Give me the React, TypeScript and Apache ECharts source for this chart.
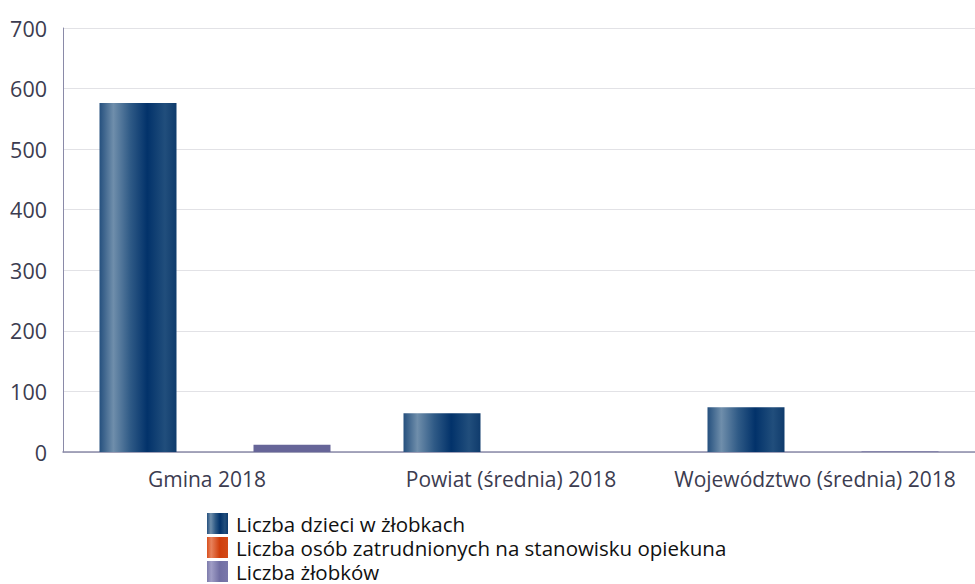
import React, { useEffect, useRef } from "react";
import * as echarts from "echarts";

const categories = ["Gmina 2018", "Powiat (średnia) 2018", "Województwo (średnia) 2018"];
const seriesNames = [
  "Liczba dzieci w żłobkach",
  "Liczba osób zatrudnionych na stanowisku opiekuna",
  "Liczba żłobków",
];
const dzieci = [576, 64, 74];
const opiekunowie = [0, 0, 0];
const zlobki = [12, 0, 1];
const yTicks = [0, 100, 200, 300, 400, 500, 600, 700];

const blueGrad = new echarts.graphic.LinearGradient(0, 0, 1, 0, [
  { offset: 0, color: "#25507e" },
  { offset: 0.18, color: "#6f8eab" },
  { offset: 0.4, color: "#2f5a86" },
  { offset: 0.62, color: "#02326a" },
  { offset: 0.85, color: "#214e7c" },
  { offset: 1, color: "#0f3b6c" },
]);
const orangeGrad = new echarts.graphic.LinearGradient(0, 0, 1, 0, [
  { offset: 0, color: "#d8501e" },
  { offset: 0.2, color: "#e8825c" },
  { offset: 0.6, color: "#d03e0c" },
  { offset: 1, color: "#d24a18" },
]);
const purpleLegendGrad = new echarts.graphic.LinearGradient(0, 0, 1, 0, [
  { offset: 0, color: "#7d7bab" },
  { offset: 0.2, color: "#a09ec6" },
  { offset: 0.6, color: "#716fa3" },
  { offset: 1, color: "#7a78aa" },
]);

const FONT = "'Open Sans', 'Noto Sans', sans-serif";

export default function App() {
  const ref = useRef<HTMLDivElement>(null);
  useEffect(() => {
    const chart = echarts.init(ref.current!, null, { renderer: "svg" });
    const textColor = "#3c3c50";
    chart.setOption({
      animation: false,
      grid: { left: 63, right: 0, top: 28, bottom: 132 },
      legend: {
        orient: "vertical",
        left: 207,
        top: 513,
        padding: 0,
        itemWidth: 21,
        itemHeight: 21,
        itemGap: 3,
        height: 80,
        textStyle: { fontSize: 20.5, lineHeight: 21, color: "#111", fontFamily: FONT, padding: [0, 0, 0, 3] },
        data: [
          { name: seriesNames[0], itemStyle: { color: blueGrad } },
          { name: seriesNames[1], itemStyle: { color: orangeGrad } },
          { name: seriesNames[2], itemStyle: { color: purpleLegendGrad } },
        ],
        icon: "rect",
      },
      xAxis: {
        type: "category",
        data: categories,
        axisLine: { lineStyle: { color: "#8a8aa8", width: 1.5 } },
        axisTick: { show: false },
        axisLabel: {
          interval: 0,
          fontSize: 21,
          color: textColor,
          margin: 16,
          fontFamily: FONT,
          padding: [0, 16, 0, 0],
        },
      },
      yAxis: {
        type: "value",
        min: 0,
        max: 700,
        interval: 100,
        axisLine: { show: true, lineStyle: { color: "#8a8aa8", width: 1 } },
        axisTick: { show: false },
        splitLine: { lineStyle: { color: "#e2e2e6" } },
        axisLabel: {
          fontSize: 21.5,
          color: textColor,
          margin: 16,
          fontFamily: FONT,
          formatter: (v: number) => (yTicks.includes(v) ? String(v) : ""),
        },
      },
      series: [
        {
          name: seriesNames[0],
          type: "bar",
          data: dzieci,
          barWidth: 77,
          barGap: "0%",
          itemStyle: { color: blueGrad },
        },
        {
          name: seriesNames[1],
          type: "bar",
          data: opiekunowie,
          barWidth: 77,
          barGap: "0%",
          itemStyle: { color: orangeGrad },
        },
        {
          name: seriesNames[2],
          type: "bar",
          data: zlobki,
          barWidth: 77,
          barGap: "0%",
          itemStyle: { color: "#666598" },
        },
      ],
    });
    return () => chart.dispose();
  }, []);
  return <div ref={ref} style={{ width: 975, height: 584, position: "absolute", left: 0, top: 0 }} />;
}
